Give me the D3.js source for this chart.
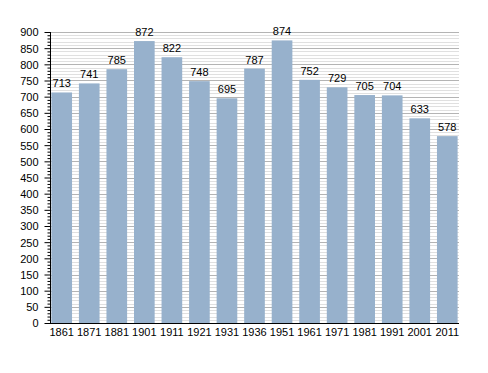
<!DOCTYPE html>
<html>
<head>
  <meta charset="UTF-8">
  <style>
    body { margin: 0; background: #fff; }
    svg text { font-family: "Liberation Sans", Arial, sans-serif; font-size: 11px; fill: #000; }
  </style>
</head>
<body>
<svg></svg>
<script src="https://d3js.org/d3.v7.min.js"></script>
<script>

let width = 488, height = 373;

let years = ["1861", "1871", "1881", "1901", "1911", "1921", "1931", "1936", "1951", "1961", "1971", "1981", "1991", "2001", "2011"];
let population = [713, 741, 785, 872, 822, 748, 695, 787, 874, 752, 729, 705, 704, 633, 578];
let majorTicks = d3.range(0, 901, 50);
let minorTicks = d3.range(0, 901, 10);

let margin = {left: 50, right: 29, top: 32, bottom: 50};

let svg = d3.select("svg")
    .attr("width", width)
    .attr("height", height);

let x = d3.scaleBand()
    .domain(years)
    .range([margin.left, width - margin.right])
    .paddingInner(0.25)
    .paddingOuter(0.05);

let y = d3.scaleLinear()
    .domain([0, 900])
    .range([height - margin.bottom, margin.top]);

// minor grid
svg.append("g")
    .selectAll("line")
    .data(minorTicks.filter(d => d % 50 != 0))
    .enter()
        .append("line")
        .attr("x1", margin.left)
        .attr("x2", width - margin.right)
        .attr("y1", d => Math.round(y(d)) + 0.5)
        .attr("y2", d => Math.round(y(d)) + 0.5)
        .attr("stroke", "#e0e0e0");

// major grid
svg.append("g")
    .selectAll("line")
    .data(majorTicks.filter(d => d > 0))
    .enter()
        .append("line")
        .attr("x1", margin.left)
        .attr("x2", width - margin.right)
        .attr("y1", d => Math.round(y(d)) + 0.5)
        .attr("y2", d => Math.round(y(d)) + 0.5)
        .attr("stroke", "#b4b4b4");

svg.append("g")
    .selectAll("rect")
    .data(population)
    .enter()
        .append("rect")
        .attr("x", (d, i) => x(years[i]))
        .attr("width", x.bandwidth())
        .attr("y", d => y(d))
        .attr("height", d => y(0) - y(d))
        .attr("fill", "#97b1cc");

svg.append("g")
    .selectAll("text")
    .data(population)
    .enter()
        .append("text")
        .attr("x", (d, i) => x(years[i]) + x.bandwidth() / 2)
        .attr("y", d => y(d) - 5)
        .attr("text-anchor", "middle")
        .text(d => d);

// y axis with minor ticks
let yAxis = svg.append("g")
    .attr("transform", "translate(" + (margin.left + 0.5) + ",0)");

yAxis.call(d3.axisLeft(y).tickValues(minorTicks).tickSize(3).tickFormat(""));
yAxis.call(g => g.selectAll(".tick").filter(d => d % 50 == 0).select("line").attr("x2", -6));
yAxis.call(g => g.selectAll(".tick").filter(d => d % 50 == 0).append("text")
    .attr("x", -12)
    .attr("dy", "0.35em")
    .attr("text-anchor", "end")
    .attr("fill", "#000")
    .style("font-size", "11px")
    .text(d => d));
yAxis.select(".domain").attr("d", "M0," + y(900) + "V" + (y(0) + 0.5));
yAxis.selectAll("line").attr("stroke", "#000");

// x axis
svg.append("line")
    .attr("x1", margin.left)
    .attr("x2", width - margin.right)
    .attr("y1", y(0) + 0.5)
    .attr("y2", y(0) + 0.5)
    .attr("stroke", "#000");

svg.append("g")
    .selectAll("text")
    .data(years)
    .enter()
        .append("text")
        .attr("x", d => x(d) + x.bandwidth() / 2)
        .attr("y", y(0) + 12.5)
        .attr("text-anchor", "middle")
        .text(d => d);

</script>
</body>
</html>
